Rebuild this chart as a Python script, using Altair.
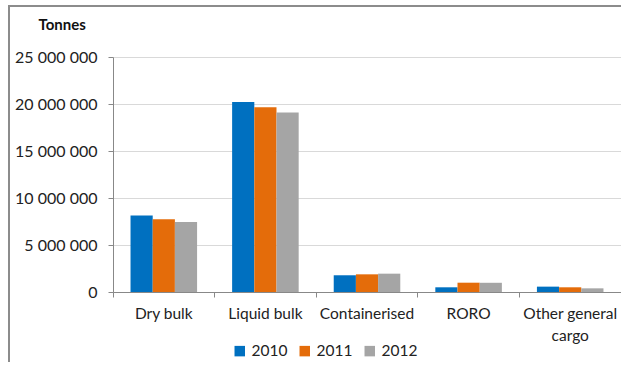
import altair as alt
import pandas as pd

categories = ["Dry bulk", "Liquid bulk", "Containerised", "RORO", "Other general cargo"]
years = ["2010", "2011", "2012"]
v2010 = [8150000, 20200000, 1780000, 500000, 570000]
v2011 = [7730000, 19650000, 1880000, 990000, 500000]
v2012 = [7450000, 19100000, 1950000, 980000, 390000]
colors = ["#0070C0", "#E46C0A", "#A5A5A5"]

rows = []
for yr, vals in zip(years, [v2010, v2011, v2012]):
    for c, v in zip(categories, vals):
        rows.append({"Category": c, "Year": yr, "Tonnes": v})
df = pd.DataFrame(rows)

FONT = "Lato"

chart = alt.Chart(df).mark_bar().encode(
    x=alt.X("Category:N", sort=categories,
            scale=alt.Scale(paddingInner=0, paddingOuter=0),
            axis=alt.Axis(title=None, labelAngle=0, bandPosition=0, ticks=True,
                          tickSize=5, labelPadding=9, labelFontSize=15.5,
                          labelExpr="datum.label == 'Other general cargo' ? ['Other general', 'cargo'] : datum.label",
                          labelLineHeight=22, labelBaseline="top")),
    xOffset=alt.XOffset("Year:N", sort=years,
                        scale=alt.Scale(paddingInner=0, paddingOuter=0.79)),
    y=alt.Y("Tonnes:Q", scale=alt.Scale(domain=[0, 25000000]),
            axis=alt.Axis(values=[0, 5000000, 10000000, 15000000, 20000000, 25000000],
                          labelExpr="replace(format(datum.value, ','), regexp(',', 'g'), ' ')",
                          labelFontSize=16, tickSize=5, labelPadding=11,
                          title="Tonnes", titleAngle=0, titleAlign="left",
                          titleBaseline="middle", titleX=-75, titleY=-33,
                          titleFontSize=15, titleFontWeight="bold")),
    color=alt.Color("Year:N", sort=years,
                    scale=alt.Scale(domain=years, range=colors),
                    legend=alt.Legend(title=None, orient="none", direction="horizontal",
                                      legendX=119, legendY=286, symbolType="square",
                                      symbolSize=110, symbolStrokeWidth=0, labelFontSize=15.5,
                                      columnPadding=9, labelOffset=4)),
).properties(
    width=508, height=235,
    padding={"left": 103, "top": 50, "right": 0, "bottom": 70},
    autosize=alt.AutoSizeParams(type="none"),
).configure(
    font=FONT,
).configure_axis(
    labelColor="#222222", titleColor="#111111", domainColor="#888888",
    tickColor="#888888", labelFont=FONT, titleFont=FONT,
).configure_axisY(
    gridColor="#D9D9D9", domainColor="#888888",
).configure_axisX(
    grid=False,
).configure_legend(
    labelColor="#222222", labelFont=FONT,
).configure_view(
    stroke=None,
)

chart.save("out.html", embed_options={"renderer": "svg", "actions": False})

with open("out.html") as f:
    html = f.read()
html = html.replace("</head>", "<style>body{margin:5px 0 0 8px;overflow:hidden;} #vis{border-top:2px solid #8c8c8c;border-left:2px solid #8c8c8c;}</style></head>", 1)
with open("out.html", "w") as f:
    f.write(html)
